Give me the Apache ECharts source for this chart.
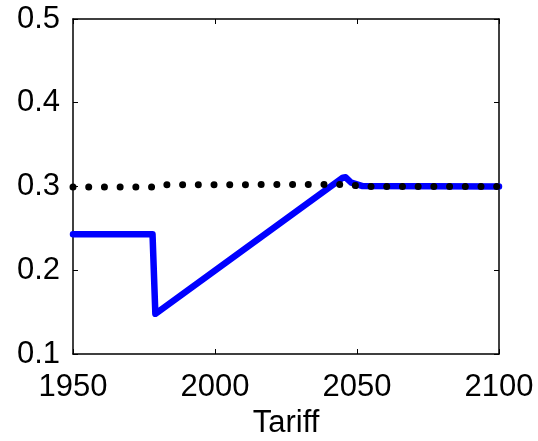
<!DOCTYPE html>
<html><head><meta charset="utf-8">
<script src="https://cdn.jsdelivr.net/npm/echarts@6/dist/echarts.min.js"></script>
<style>html,body{margin:0;padding:0;background:#fff}#c{width:538px;height:441px}</style>
</head><body><div id="c"></div>
<script>
const xTicks = [1950, 2000, 2050, 2100];
const yTicks = [0.1, 0.2, 0.3, 0.4, 0.5];
const blueYears  = [1950, 1978, 1979, 2045, 2046, 2048, 2052, 2100];
const blueValues = [0.243, 0.243, 0.148, 0.3105, 0.311, 0.3045, 0.3005, 0.300];
const dotYears  = [1950, 1979, 1981, 2045, 2053, 2100];
const dotValues = [0.2995, 0.2995, 0.302, 0.3025, 0.300, 0.300];

const font = 'Liberation Sans, Arial, sans-serif';
const chart = echarts.init(document.getElementById('c'));
const common = {axisLine:{show:true,lineStyle:{color:'#000',width:1.5}}, splitLine:{show:false}};
chart.setOption({
  animation:false,
  grid:{left:73,right:39,top:19,bottom:87,containLabel:false,outerBoundsMode:'none'},
  xAxis:[
    Object.assign({type:'value',min:xTicks[0],max:xTicks[xTicks.length-1],interval:50,position:'bottom',
      axisTick:{inside:true,length:5,lineStyle:{color:'#000'}},
      axisLabel:{color:'#000',fontSize:31,fontFamily:font,margin:18,formatter:v=>String(v)},
      name:'Tariff',nameLocation:'middle',nameGap:53,nameTextStyle:{color:'#000',fontSize:31,fontFamily:font}},common),
    Object.assign({type:'value',min:xTicks[0],max:xTicks[xTicks.length-1],interval:50,position:'top',
      axisTick:{inside:true,length:5,lineStyle:{color:'#000'}},axisLabel:{show:false}},common)
  ],
  yAxis:[
    Object.assign({type:'value',min:yTicks[0],max:yTicks[yTicks.length-1],interval:0.1,position:'left',
      axisTick:{inside:true,length:5,lineStyle:{color:'#000'}},
      axisLabel:{color:'#000',fontSize:31,fontFamily:font,margin:13,padding:[6,0,0,0],formatter:v=>v.toFixed(1)}},common),
    Object.assign({type:'value',min:yTicks[0],max:yTicks[yTicks.length-1],interval:0.1,position:'right',
      axisTick:{inside:true,length:5,lineStyle:{color:'#000'}},axisLabel:{show:false}},common)
  ],
  series:[
    {type:'line',data:blueYears.map((x,i)=>[x,blueValues[i]]),showSymbol:false,
      lineStyle:{color:'#0000ff',width:6.5,cap:'round',join:'round'},z:2},
    {type:'line',data:dotYears.map((x,i)=>[x,dotValues[i]]),showSymbol:false,
      lineStyle:{color:'#000',width:7,type:[0.01,15.7],cap:'round'},z:3}
  ]
});
</script></body></html>
